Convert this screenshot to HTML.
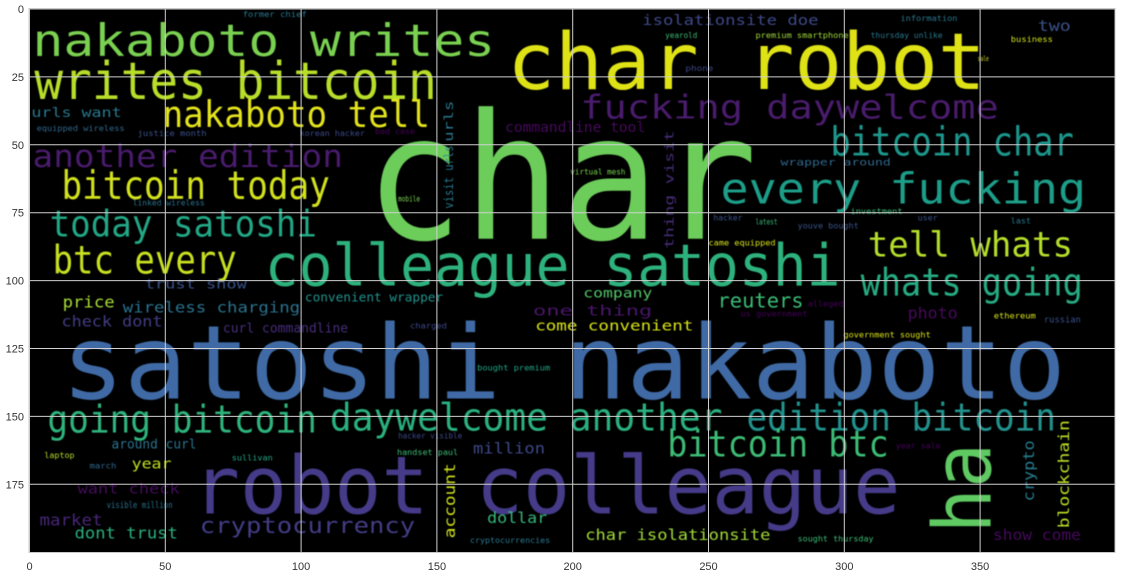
<!DOCTYPE html>
<html><head><meta charset="utf-8"><style>
html,body{margin:0;padding:0;background:#fff;}
svg{display:block;}
text{font-family:"DejaVu Sans Mono","Liberation Mono",monospace;}
.tick{font-family:"Liberation Sans","DejaVu Sans",sans-serif;font-size:11px;fill:#333;}
</style></head><body>
<svg id="chart" width="1121" height="572" viewBox="0 0 1121 572" xmlns="http://www.w3.org/2000/svg">
<defs><filter id="soft" x="-5%" y="-5%" width="110%" height="110%"><feGaussianBlur stdDeviation="0.6"/></filter></defs>
<rect x="29" y="8.5" width="1086" height="544" fill="#000"/>
<g id="words" filter="url(#soft)"></g>
<g id="grid"></g>
<rect x="29" y="8.5" width="1086" height="544" fill="none" stroke="#c8c8c8" stroke-width="1"/>
<g id="ticks"></g>
</svg>
<script>
const xTicks = [0,50,100,150,200,250,300,350];
const yTicks = [0,25,50,75,100,125,150,175];
const words = ["nakaboto writes","writes bitcoin","nakaboto tell","another edition","bitcoin today","today satoshi","btc every","char","colleague satoshi","char robot","fucking daywelcome","bitcoin char","every fucking","tell whats","whats going","satoshi nakaboto","going bitcoin","daywelcome another","edition bitcoin","bitcoin btc","robot colleague","ha","cryptocurrency","dont trust","market","want check","year","around curl","laptop","price","wireless charging","check dont","curl commandline","convenient wrapper","million","dollar","account","trust show","company","reuters","one thing","come convenient","photo","char isolationsite","show come","blockchain","crypto","two","isolationsite doe","urls want","equipped wireless","commandline tool","urls","visit urls","thing visit","wrapper around","premium smartphone","thursday unlike","information","former chief","business","government sought","ethereum","russian","us government","alleged","sought thursday","year sale","handset paul","hacker visible","bought premium","cryptocurrencies","visible million","sullivan","march","charged","latest","youve bought","came equipped","virtual mesh","hacker","investment","user","last","yearold","phone","sale","justice month","korean hacker","bad case","linked wireless","mobile"];
const wordX = [1.1,1.8,49.0,1.1,11.8,7.4,8.5,123.5,86.6,175.9,202.8,294.9,254.4,308.6,306.0,11.8,6.6,110.6,264.0,234.8,60.1,353.9,62.7,16.6,3.7,17.7,37.6,30.2,5.5,12.2,34.3,11.8,71.2,101.4,163.3,168.5,156.7,42.4,203.9,253.3,185.4,186.2,323.3,204.6,354.7,382.7,369.8,371.2,225.6,0.7,2.6,175.1,155.9,155.9,237.1,276.5,267.3,309.7,320.7,78.5,361.3,299.7,355.0,373.5,261.8,286.5,282.8,318.9,135.3,135.7,164.8,162.2,28.4,74.5,22.1,140.1,267.3,282.8,250.0,199.1,251.8,302.3,327.0,361.3,234.1,241.5,349.1,39.8,99.5,127.2,38.0,135.7];
const wordY = [17.3,33.1,43.4,58.1,69.9,83.8,97.4,84.6,101.8,29.4,40.4,54.0,71.7,91.2,105.5,143.4,155.9,155.1,155.1,164.7,185.7,193.0,193.0,194.9,190.1,178.3,169.1,161.8,165.4,109.9,111.8,116.9,119.1,107.7,163.6,189.3,194.9,102.9,106.3,109.9,112.9,118.4,114.0,195.6,195.6,191.2,181.3,8.1,5.9,39.7,44.9,45.2,48.9,73.5,88.2,57.7,10.7,10.7,4.4,2.9,12.1,121.0,114.0,115.4,113.2,109.6,196.0,161.8,164.3,158.1,133.1,196.7,183.8,166.2,169.1,117.6,79.4,80.9,87.1,61.0,77.9,75.4,77.9,79.0,10.7,22.8,19.1,46.7,46.7,46.0,72.4,70.9];
const wordSize = [16.5,19.1,13.6,11.4,14.3,13.6,14.3,64.3,21.3,29.0,12.1,14.7,15.8,12.9,14.0,37.9,14.0,14.0,14.0,13.6,29.4,29.4,8.1,5.9,5.9,5.1,5.1,4.8,2.9,5.9,5.5,5.5,4.8,4.4,5.5,5.5,5.5,4.8,4.8,7.4,5.1,5.1,5.9,5.5,5.5,5.5,5.5,5.5,5.1,4.8,2.9,5.1,4.4,4.4,4.4,3.7,2.9,2.9,2.9,2.9,2.9,2.9,2.9,3.3,2.9,2.9,2.9,2.9,2.9,2.9,2.9,2.9,3.3,2.9,2.9,2.9,2.9,2.9,2.9,2.9,2.9,2.9,2.9,2.9,2.9,2.9,2.5,2.9,2.9,2.9,2.9,2.9];
const wordLen = [170.3,148.2,98.4,114.3,98.8,98.4,67.8,144.5,212.0,176.2,154.1,89.6,134.6,75.6,81.8,369.8,99.2,144.5,113.9,81.5,260.6,33.2,79.3,38.0,23.2,37.6,14.7,31.3,11.1,19.2,65.3,37.2,46.1,50.9,26.5,22.1,27.6,37.6,25.4,31.7,43.9,58.2,18.4,68.2,32.4,39.8,22.5,12.2,64.9,33.2,32.4,51.6,15.1,23.2,43.5,40.6,34.3,26.5,21.0,23.6,15.5,32.1,15.5,13.6,24.7,13.3,28.0,16.6,22.5,23.6,26.9,29.5,24.3,15.1,9.9,13.6,8.1,22.5,24.7,20.3,10.7,19.2,7.4,7.4,11.8,10.3,4.1,25.4,24.0,14.7,26.5,8.1];
const wordColor = ["#7ad151","#b8de29","#e3e31e","#4a1a6c","#d2e21b","#22a785","#c8e020","#6ccd5a","#2db27d","#dfe318","#4a1a6c","#1f968b","#1f9e89","#b5de2b","#25ab82","#3f6ba5","#2fb47c","#2ab07f","#21918c","#3dbc74","#453b88","#5ec962","#433e85","#29af7f","#482878","#450a5c","#c2df23","#2c728e","#b5de2b","#a5db36","#2c728e","#433e85","#472d7b","#20938c","#3e4989","#35b779","#d0e11c","#3b528b","#52c569","#3bbb75","#481769","#d8e219","#46085c","#a0da39","#46085c","#bddf26","#287d8e","#3b528b","#3e4989","#2a788e","#31688e","#46085c","#2a788e","#2a788e","#472d7b","#31688e","#a0da39","#2a788e","#2a788e","#2a788e","#d2e21b","#d8e219","#d8e219","#3b528b","#46085c","#46085c","#3bbb75","#46085c","#3bbb75","#3e4989","#22a785","#2a788e","#2c728e","#22a785","#31688e","#3e4989","#3bbb75","#3b528b","#d8e219","#7ad151","#3b528b","#3bbb75","#3b528b","#2a788e","#3bbb75","#3e4989","#d8e219","#3b528b","#3e4989","#46085c","#2c728e","#7ad151"];
const wordVertical = [0,0,0,0,0,0,0,0,0,0,0,0,0,0,0,0,0,0,0,0,0,1,0,0,0,0,0,0,0,0,0,0,0,0,0,0,1,0,0,0,0,0,0,0,0,1,1,0,0,0,0,0,1,1,1,0,0,0,0,0,0,0,0,0,0,0,0,0,0,0,0,0,0,0,0,0,0,0,0,0,0,0,0,0,0,0,0,0,0,0,0,0];

const NS = "http://www.w3.org/2000/svg";
function xScale(v){ return 29.5 + v * 2.716; }
function yScale(v){ return 9 + v * 2.716; }
function sScale(v){ return v * 2.716; }

const wg = document.getElementById("words");
words.forEach((w, i) => {
  const t = document.createElementNS(NS, "text");
  
  
  t.setAttribute("x", 0);
  t.setAttribute("y", 0);
  t.setAttribute("font-size", sScale(wordSize[i]).toFixed(1));
  t.setAttribute("fill", wordColor[i]);
  t.setAttribute("textLength", sScale(wordLen[i]).toFixed(1));
  t.setAttribute("lengthAdjust", "spacingAndGlyphs");
  const tr = "translate(" + xScale(wordX[i]).toFixed(1) + "," + yScale(wordY[i]).toFixed(1) + ")" + (wordVertical[i] ? " rotate(-90)" : "");
  t.setAttribute("transform", tr);
  t.textContent = w;
  wg.appendChild(t);
});

const gg = document.getElementById("grid");
const tg = document.getElementById("ticks");
xTicks.forEach(v => {
  const l = document.createElementNS(NS, "line");
  
  
  l.setAttribute("x1", xScale(v)); l.setAttribute("x2", xScale(v));
  l.setAttribute("y1", 8.5); l.setAttribute("y2", 552.5);
  l.setAttribute("stroke", "#d0d0d0"); l.setAttribute("stroke-width", "1");
  gg.appendChild(l);
  const t = document.createElementNS(NS, "text");
  
  
  t.setAttribute("class", "tick");
  t.setAttribute("x", xScale(v)); t.setAttribute("y", 570);
  t.setAttribute("text-anchor", "middle");
  t.textContent = v;
  tg.appendChild(t);
});
yTicks.forEach(v => {
  const l = document.createElementNS(NS, "line");
  
  
  l.setAttribute("x1", 29); l.setAttribute("x2", 1115);
  l.setAttribute("y1", yScale(v)); l.setAttribute("y2", yScale(v));
  l.setAttribute("stroke", "#d0d0d0"); l.setAttribute("stroke-width", "1");
  gg.appendChild(l);
  const t = document.createElementNS(NS, "text");
  
  
  t.setAttribute("class", "tick");
  t.setAttribute("x", 24); t.setAttribute("y", yScale(v) + 4);
  t.setAttribute("text-anchor", "end");
  t.textContent = v;
  tg.appendChild(t);
});
</script>
</body></html>
